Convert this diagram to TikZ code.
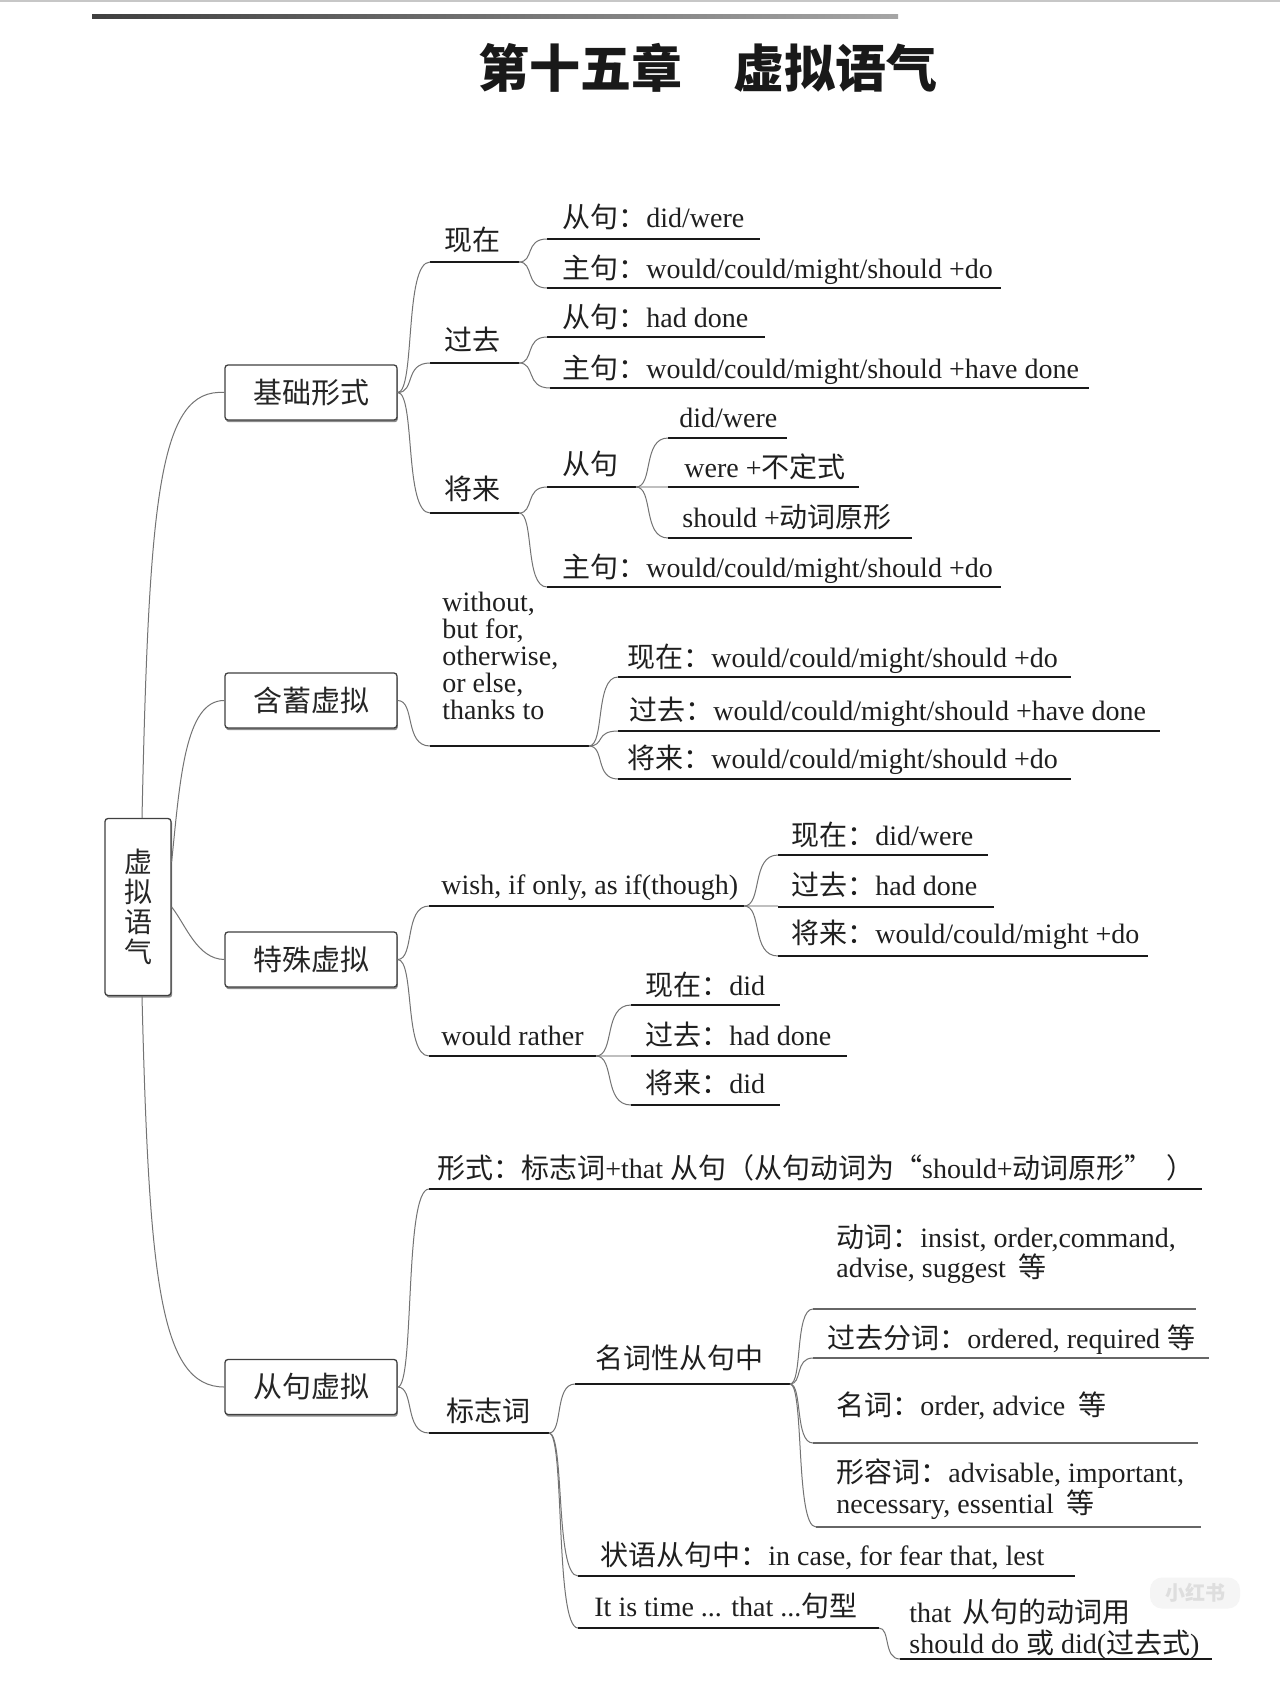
\documentclass[tikz,border=0pt]{standalone}
\usepackage{fontspec}
\setmainfont{Liberation Serif}
\newfontfamily\cjk{Noto Sans CJK SC}
\usetikzlibrary{calc,shadows}
\newcommand\zh[1]{{\cjk #1}}
\tikzset{
  tx/.style={anchor=base west, inner sep=0pt, font=\fontsize{14}{15}\selectfont, text=black!88},
  ul/.style={line width=1.2pt, black!90},
  ulthin/.style={line width=0.6pt, black!60},
  glink/.style={line width=1.4pt, black!25},
  cn/.style={line width=0.5pt, black!55},
  box/.style={draw=black!75, line width=0.65pt, rounded corners=1.5pt, fill=white,
    minimum width=86pt, minimum height=27.5pt, inner sep=0pt,
    font=\fontsize{14.5}{15}\selectfont\cjk, text=black!85,
    drop shadow={shadow xshift=0.4pt, shadow yshift=-1.1pt, fill=black!45, opacity=1}},
  rootbox/.style={draw=black!75, line width=0.65pt, rounded corners=1.5pt, fill=white,
    minimum width=33pt, minimum height=88.5pt, inner sep=0pt, align=center,
    font=\fontsize{14}{15}\selectfont\cjk, text=black!85,
    drop shadow={shadow xshift=0.6pt, shadow yshift=-1.1pt, fill=black!45, opacity=1}},
  titlestyle/.style={inner sep=0pt, font=\fontsize{25.5}{30}\selectfont\cjk\bfseries, text=black!90},
  wm/.style={fill=black!4, rounded corners=6pt, minimum width=45pt, minimum height=15.5pt,
    inner sep=0pt, text=black!13, font=\fontsize{10}{12}\selectfont\cjk\bfseries}
}
% underline: [style]{name}{x1}{x2}{y}
\newcommand\UL[5][ul]{\coordinate (#2S) at (#3,#5); \coordinate (#2E) at (#4,#5); \draw[#1] (#2S) -- (#2E);}
% text: {name}{x}{baseline}{text}
\newcommand\TX[4]{\node[tx] (#1) at (#2,#3) {#4};}
% connector
\newcommand\CN[2]{\draw[cn] (#1) .. controls ($(#1)!0.55!(#1 -| #2)$) and ($(#1 |- #2)!0.2!(#2)$) .. (#2);}
\begin{document}
\begin{tikzpicture}[x=0.5pt,y=-0.5pt]
\useasboundingbox (0,0) rectangle (1280,1697);
\fill[white] (0,0) rectangle (1280,1697);
\fill[black!22] (0,0) rectangle (1280,2);
\shade[left color=black!75, right color=black!35] (92,14.5) rectangle (898,18.5);
\node[titlestyle] (title) at (708,68) {第十五章\hspace{1em}虚拟语气};

% root and first level
\node[rootbox] (root) at (138,907) {虚\\拟\\语\\气};
\node[box] (jc) at (311,392.5) {基础形式};
\node[box] (hx) at (311,700.5) {含蓄虚拟};
\node[box] (ts) at (311,959.5) {特殊虚拟};
\node[box] (cj) at (311,1387) {从句虚拟};

\coordinate (rN) at ($(root.north)+(4,0)$);
\coordinate (rA) at ($(root.north east)+(0,44)$);
\coordinate (rS) at ($(root.south)+(4,0)$);
\draw[cn] (rN) .. controls (149,496) and (159,388) .. (jc.west);
\draw[cn] (rA) .. controls (180,780) and (185,700) .. (hx.west);
\draw[cn] (root.east) .. controls (186,925) and (197,959) .. (ts.west);
\draw[cn] (rS) .. controls (149,1280) and (160,1387) .. (cj.west);

% ---------- 基础形式
\UL{xz}{430}{519}{262} \TX{xzt}{444}{250}{\zh{现在}}
\UL{xzc}{547}{760}{239} \TX{xzct}{562}{227}{\zh{从句：}did/were}
\UL{xzm}{547}{1001}{288} \TX{xzmt}{562}{278}{\zh{主句：}would/could/might/should +do}
\UL{gq}{430}{519}{363} \TX{gqt}{444}{350}{\zh{过去}}
\UL{gqc}{547}{765}{337} \TX{gqct}{562}{327}{\zh{从句：}had done}
\UL{gqm}{550}{1089}{388} \TX{gqmt}{562}{378}{\zh{主句：}would/could/might/should +have done}
\UL{jl}{430}{519}{513} \TX{jlt}{444}{499}{\zh{将来}}
\UL{jlc}{547}{636}{487} \TX{jlct}{562}{474}{\zh{从句}}
\UL[glink]{jlg}{636}{668}{487}
\UL{jla}{668}{787}{438} \TX{jlat}{679}{427}{did/were}
\UL{jlb}{668}{859}{487} \TX{jlbt}{684}{477}{were +\zh{不定式}}
\UL{jld}{668}{912}{538} \TX{jldt}{682}{527}{should +\zh{动词原形}}
\UL{jlm}{547}{1001}{587} \TX{jlmt}{562}{577}{\zh{主句：}would/could/might/should +do}
\CN{jc.east}{xzS} \CN{jc.east}{gqS} \CN{jc.east}{jlS}
\CN{xzE}{xzcS} \CN{xzE}{xzmS}
\CN{gqE}{gqcS} \CN{gqE}{gqmS}
\CN{jlE}{jlcS} \CN{jlE}{jlmS}
\CN{jlcE}{jlaS} \CN{jlcE}{jldS}

% ---------- 含蓄虚拟
\UL{wo}{430}{589}{746}
\TX{wo1}{442}{611}{without,}
\TX{wo2}{442}{638}{but for,}
\TX{wo3}{442}{665}{otherwise,}
\TX{wo4}{442}{692}{or else,}
\TX{wo5}{442}{719}{thanks to}
\UL{hxa}{618}{1071}{677} \TX{hxat}{627}{667}{\zh{现在：}would/could/might/should +do}
\UL{hxb}{618}{1160}{731} \TX{hxbt}{629}{720}{\zh{过去：}would/could/might/should +have done}
\UL{hxc}{618}{1071}{779} \TX{hxct}{627}{768}{\zh{将来：}would/could/might/should +do}
\CN{hx.east}{woS} \CN{woE}{hxaS} \CN{woE}{hxbS} \CN{woE}{hxcS}

% ---------- 特殊虚拟
\UL{wi}{429}{744}{906} \TX{wit}{441}{894}{wish, if only, as if(though)}
\UL[glink]{wig}{744}{778}{906}
\UL{wia}{778}{988}{855} \TX{wiat}{791}{845}{\zh{现在：}did/were}
\UL{wib}{778}{994}{907} \TX{wibt}{791}{895}{\zh{过去：}had done}
\UL{wic}{778}{1148}{956} \TX{wict}{791}{943}{\zh{将来：}would/could/might +do}
\UL{wr}{429}{596}{1056} \TX{wrt}{441}{1045}{would rather}
\UL[glink]{wrg}{596}{631}{1056}
\UL{wra}{631}{780}{1005} \TX{wrat}{645}{995}{\zh{现在：}did}
\UL{wrb}{631}{847}{1056} \TX{wrbt}{645}{1045}{\zh{过去：}had done}
\UL{wrc}{631}{780}{1105} \TX{wrct}{645}{1093}{\zh{将来：}did}
\CN{ts.east}{wiS} \CN{ts.east}{wrS}
\CN{wiE}{wiaS} \CN{wiE}{wicS}
\CN{wrE}{wraS} \CN{wrE}{wrcS}

% ---------- 从句虚拟
\UL{xs}{429}{1202}{1189} \TX{xst}{437}{1178}{\zh{形式：标志词}+that \zh{从句（从句动词为“}should+\zh{动词原形”\hspace{0.5em}）}}
\UL{bz}{429}{549}{1433} \TX{bzt}{446}{1421}{\zh{标志词}}
\UL{mc}{575}{790}{1384} \TX{mct}{595}{1368}{\zh{名词性从句中}}
\UL[ulthin]{dc}{813}{1196}{1309}
\TX{dct1}{836}{1247}{\zh{动词：}insist, order,command,}
\TX{dct2}{836}{1277}{advise, suggest\hspace{0.45em}\zh{等}}
\UL[ulthin]{gf}{813}{1209}{1358} \TX{gft}{827}{1348}{\zh{过去分词：}ordered, required \zh{等}}
\UL[ulthin]{mi}{813}{1198}{1443} \TX{mit}{836}{1415}{\zh{名词：}order, advice\hspace{0.45em}\zh{等}}
\UL[ulthin]{xr}{816}{1201}{1527}
\TX{xrt1}{836}{1482}{\zh{形容词：}advisable, important,}
\TX{xrt2}{836}{1513}{necessary, essential\hspace{0.45em}\zh{等}}
\UL{zy}{578}{1075}{1576} \TX{zyt}{600}{1565}{\zh{状语从句中：}in case, for fear that, lest}
\UL{it}{578}{879}{1628} \TX{itt}{594}{1616}{It is time ... that ...\zh{句型}}
\UL{th}{900}{1212}{1659}
\TX{tht1}{909}{1622}{that\hspace{0.4em}\zh{从句的动词用}}
\TX{tht2}{909}{1653}{should do \zh{或} did(\zh{过去式})}
\CN{cj.east}{xsS} \CN{cj.east}{bzS}
\CN{bzE}{mcS} \CN{bzE}{zyS} \CN{bzE}{itS}
\CN{mcE}{dcS} \CN{mcE}{gfS} \CN{mcE}{miS} \CN{mcE}{xrS}
\CN{itE}{thS}

% watermark
\node[wm] (wmk) at (1195,1593) {小红书};
\end{tikzpicture}
\end{document}
